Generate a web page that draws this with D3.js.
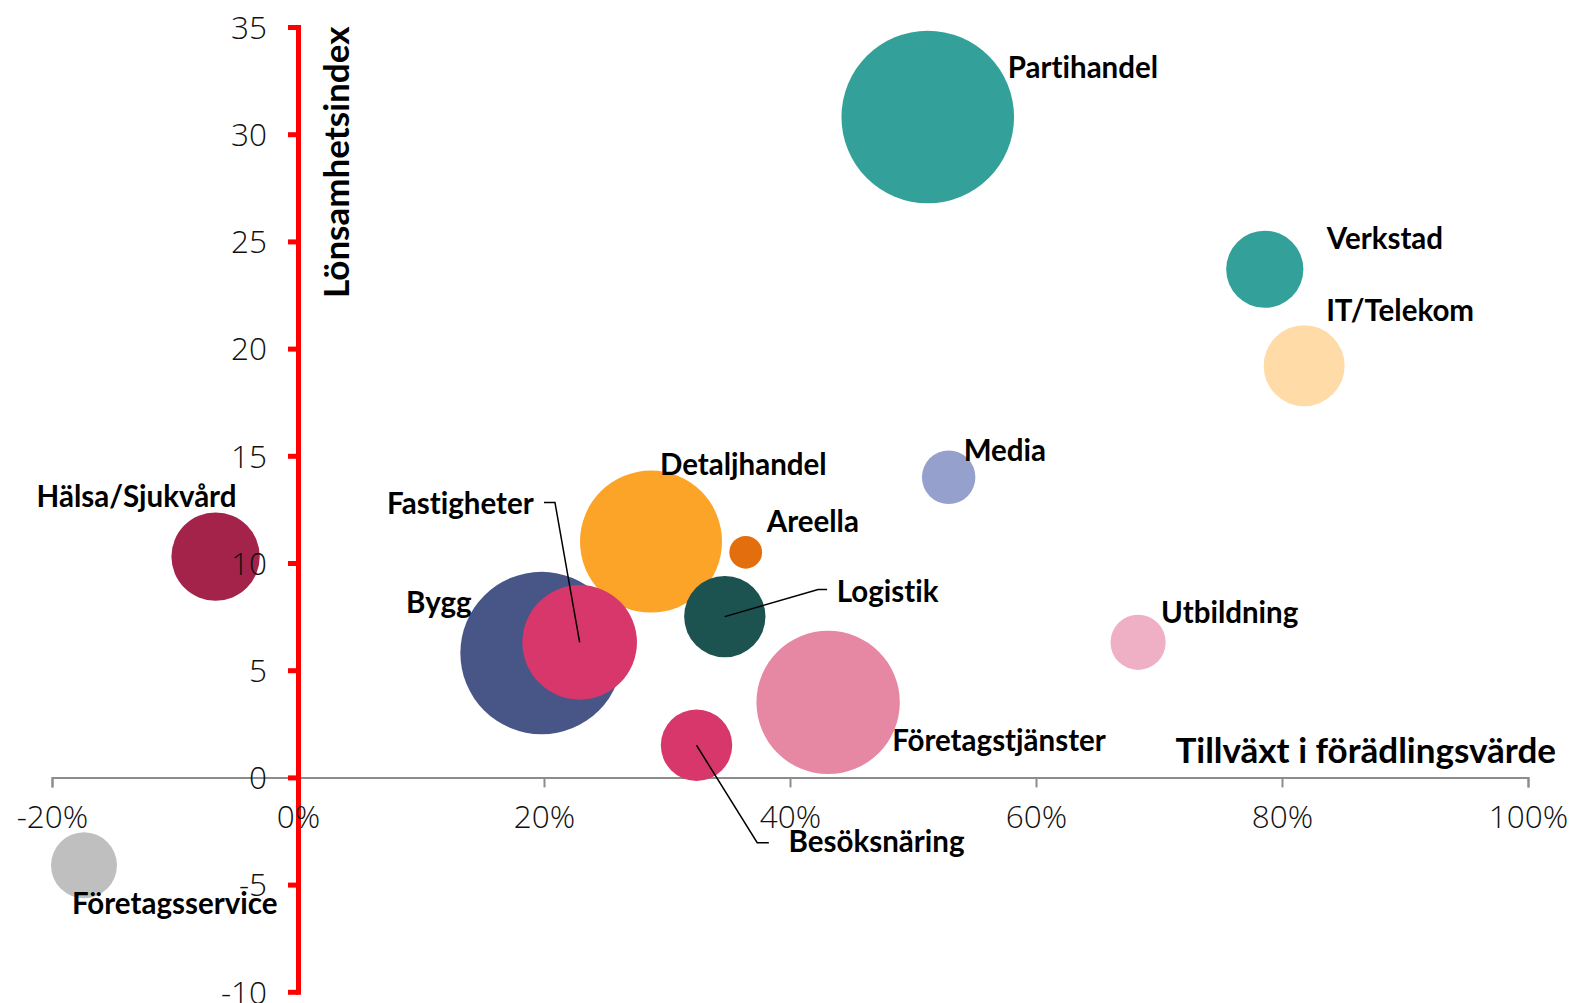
<!DOCTYPE html>
<html>
<head>
<meta charset="utf-8">
<script src="https://cdn.jsdelivr.net/npm/d3@7/dist/d3.min.js"></script>
<style>
  html, body { margin: 0; padding: 0; background: #fff; }
  svg { display: block; }
  text { font-variant-ligatures: none; font-feature-settings: "liga" 0, "clig" 0; }
</style>
</head>
<body>
<svg id="chart" width="1574" height="1003"></svg>
<script>
// ---- Data ----
const sectors = ["Bygg", "Detaljhandel", "Fastigheter", "Partihandel", "Verkstad", "IT/Telekom", "Media",
  "Utbildning", "Areella", "Logistik", "Företagstjänster", "Besöksnäring", "Hälsa/Sjukvård", "Företagsservice"];
// Tillväxt i förädlingsvärde (%)
const growth = [19.8, 28.7, 22.9, 51.2, 78.6, 81.8, 52.9, 68.3, 36.4, 34.7, 43.1, 32.4, -6.7, -17.4];
// Lönsamhetsindex
const profitability = [5.8, 11.0, 6.3, 30.8, 23.7, 19.2, 14.0, 6.3, 10.5, 7.5, 3.5, 1.5, 10.3, -4.1];
// Bubble size (relative)
const bubbleSize = [88.5, 67.7, 44.1, 100, 20.0, 22.0, 9.6, 10.2, 3.6, 22.2, 69.0, 17.1, 26.2, 14.6];

const xTicks = [-20, 0, 20, 40, 60, 80, 100];
const yTicks = [-10, -5, 0, 5, 10, 15, 20, 25, 30, 35];

// ---- Styles / layout ----
const colors = ["#475587", "#FCA428", "#D7376A", "#33A19A", "#33A19A", "#FFDBA8", "#95A0CC",
  "#EFAFC4", "#E36E0D", "#1C5250", "#E688A3", "#D7376A", "#A3234A", "#BFBFBF"];
// label offsets relative to bubble centre [dx, dy, anchor]
const labelOffsets = [[-70, -40, "end"], [9, -67, "start"], [-46, -128, "end"], [80, -39, "start"],
  [62, -20, "start"], [22, -45, "start"], [15, -16, "start"], [23, -19, "start"], [21, -20, "start"],
  [112, -15, "start"], [64, 49, "start"], [92, 107, "start"], [-179, -50, "start"], [-12, 49, "start"]];
// leader lines (relative to bubble centre): [elbow, end]
const leaders = {
  "Fastigheter": [[-24.7, -139.8], [-35.7, -139.8]],
  "Logistik": [[93.3, -27], [102.3, -27]],
  "Besöksnäring": [[60.7, 97.5], [72.3, 97.5]]
};

const svg = d3.select("#chart");
const x = d3.scaleLinear().domain([-20, 100]).range([52, 1528]);
const y = d3.scaleLinear().domain([-10, 35]).range([991.8, 27]);
const r = d3.scaleSqrt().domain([0, 100]).range([0, 86.3]);

const tickFont = "'Open Sans', 'Segoe UI', sans-serif";
const labelFont = "Lato, 'Open Sans', sans-serif";

// ---- Axis lines (behind) ----
const xAxisLines = svg.append("g").attr("transform", `translate(0,${y(0)})`)
  .call(d3.axisBottom(x).tickValues(xTicks).tickSize(10).tickSizeOuter(10).tickFormat(""));
xAxisLines.selectAll("path, line").attr("stroke", "#8C8C8C").attr("stroke-width", 2);

const yAxisLines = svg.append("g").attr("transform", `translate(${x(0)},0)`)
  .call(d3.axisLeft(y).tickValues(yTicks).tickSize(10).tickSizeOuter(0).tickFormat(""));
yAxisLines.selectAll("path, line").attr("stroke", "#FF0000").attr("stroke-width", 5);
yAxisLines.select("path").attr("stroke-linecap", "square");

// ---- Bubbles ----
const idx = d3.range(sectors.length);
svg.append("g").selectAll("circle").data(idx).join("circle")
  .attr("cx", i => x(growth[i]))
  .attr("cy", i => y(profitability[i]))
  .attr("r", i => r(bubbleSize[i]))
  .attr("fill", i => colors[i]);

// ---- Tick labels (front) ----
const xAxisText = svg.append("g").attr("transform", `translate(0,${y(0)})`)
  .call(d3.axisBottom(x).tickValues(xTicks).tickSize(0).tickFormat(d => d + "%"));
xAxisText.select(".domain").remove();
xAxisText.selectAll("text").attr("y", 51).attr("dy", null)
  .attr("font-family", tickFont).attr("font-weight", 300).attr("font-size", 31.5).attr("fill", "#111");

const yAxisText = svg.append("g").attr("transform", `translate(${x(0)},0)`)
  .call(d3.axisLeft(y).tickValues(yTicks).tickSize(0).tickFormat(d => d));
yAxisText.select(".domain").remove();
yAxisText.selectAll("text").attr("x", -31).attr("dy", "0.36em")
  .attr("font-family", tickFont).attr("font-weight", 300).attr("font-size", 31.5).attr("fill", "#111");

// ---- Leader lines ----
const lg = svg.append("g");
idx.forEach(i => {
  const l = leaders[sectors[i]];
  if (!l) return;
  const cx = x(growth[i]), cy = y(profitability[i]);
  lg.append("path")
    .attr("d", d3.line()([[cx, cy], [cx + l[0][0], cy + l[0][1]], [cx + l[1][0], cy + l[1][1]]]))
    .attr("fill", "none").attr("stroke", "#000").attr("stroke-width", 1.5);
});

// ---- Data labels ----
svg.append("g").selectAll("text").data(idx).join("text")
  .attr("x", i => x(growth[i]) + labelOffsets[i][0])
  .attr("y", i => y(profitability[i]) + labelOffsets[i][1])
  .attr("text-anchor", i => labelOffsets[i][2])
  .attr("font-family", labelFont).attr("font-weight", 700).attr("font-size", 29.5).attr("fill", "#000")
  .text(i => sectors[i]);

// ---- Axis titles ----
svg.append("text")
  .attr("transform", `translate(349,298) rotate(-90)`)
  .attr("font-family", labelFont).attr("font-weight", 700).attr("font-size", 35).attr("fill", "#000")
  .text("Lönsamhetsindex");
svg.append("text")
  .attr("x", 1556).attr("y", 763).attr("text-anchor", "end")
  .attr("font-family", labelFont).attr("font-weight", 700).attr("font-size", 35).attr("fill", "#000")
  .text("Tillväxt i förädlingsvärde");
</script>
</body>
</html>
